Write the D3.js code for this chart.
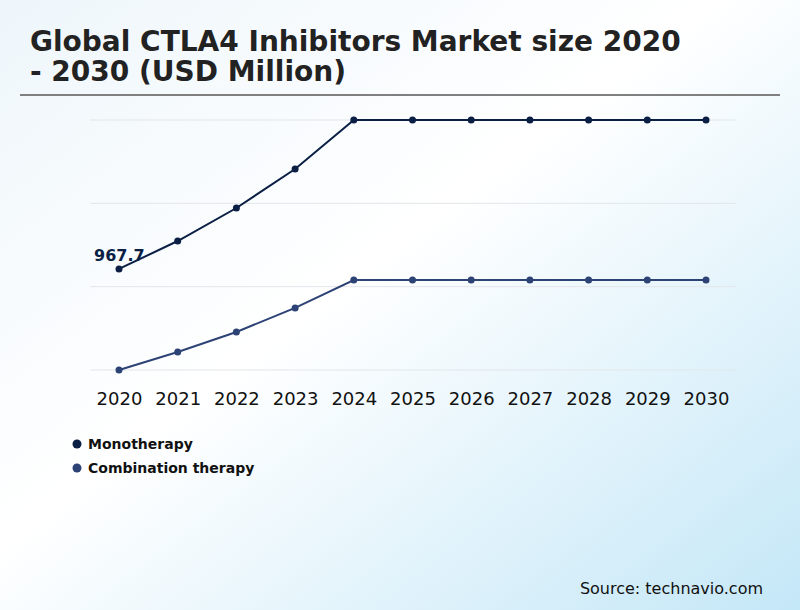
<!DOCTYPE html>
<html>
<head>
<meta charset="utf-8">
<script src="https://cdn.jsdelivr.net/npm/d3@7"></script>
<style>
  body { margin: 0; padding: 0; }
  svg { display: block; font-family: "DejaVu Sans", sans-serif; }
</style>
</head>
<body>
<div id="chart"></div>
<script>
var years = ["2020", "2021", "2022", "2023", "2024", "2025", "2026", "2027", "2028", "2029", "2030"];
var monotherapy = [967.7, 1111, 1280, 1480, 1731, 1731, 1731, 1731, 1731, 1731, 1731];
var combination = [450, 542, 645, 768, 911, 911, 911, 911, 911, 911, 911];
var seriesNames = ["Monotherapy", "Combination therapy"];
var seriesColors = ["#0b1f45", "#2d4375"];

var width = 800, height = 610;

var svg = d3.select("#chart").append("svg")
    .attr("width", width)
    .attr("height", height);

var defs = svg.append("defs");
var grad = defs.append("linearGradient")
    .attr("id", "bg")
    .attr("x1", 0).attr("y1", 0).attr("x2", 1).attr("y2", 1);
grad.append("stop").attr("offset", "0%").attr("stop-color", "#eef6fb");
grad.append("stop").attr("offset", "45%").attr("stop-color", "#ffffff");
grad.append("stop").attr("offset", "100%").attr("stop-color", "#c4e7f7");

svg.append("rect")
    .attr("width", width).attr("height", height)
    .attr("fill", "url(#bg)");

// title
var title = svg.append("text")
    .attr("x", 30)
    .attr("font-size", 28)
    .attr("font-weight", "bold")
    .attr("fill", "#222");
title.append("tspan").attr("x", 30).attr("y", 51).text("Global CTLA4 Inhibitors Market size 2020");
title.append("tspan").attr("x", 30).attr("y", 81).text("- 2030 (USD Million)");

svg.append("line")
    .attr("x1", 20).attr("x2", 780)
    .attr("y1", 95).attr("y2", 95)
    .attr("stroke", "#808080")
    .attr("stroke-width", 2);

var x = d3.scalePoint()
    .domain(years)
    .range([119, 706]);

var allVals = monotherapy.concat(combination);
var y = d3.scaleLinear()
    .domain([d3.min(allVals), d3.max(allVals)])
    .range([370, 120]);

// gridlines: 4 evenly spaced
var gridVals = d3.range(4).map(function (i) {
    return y.domain()[0] + i * (y.domain()[1] - y.domain()[0]) / 3;
});
svg.append("g").selectAll("line")
    .data(gridVals)
    .enter().append("line")
    .attr("x1", 90).attr("x2", 736)
    .attr("y1", function (d) { return y(d); })
    .attr("y2", function (d) { return y(d); })
    .attr("stroke", "#e3e6ea")
    .attr("stroke-width", 1);

// x axis labels
var xAxis = d3.axisBottom(x).tickSize(0).tickPadding(0);
var gx = svg.append("g")
    .attr("transform", "translate(0,392)")
    .call(xAxis);
gx.select(".domain").remove();
gx.selectAll("text")
    .attr("font-family", "DejaVu Sans, sans-serif")
    .attr("font-size", 18)
    .attr("fill", "#111");

var line = d3.line()
    .x(function (d, i) { return x(years[i]); })
    .y(function (d) { return y(d); });

[monotherapy, combination].forEach(function (vals, s) {
    svg.append("path")
        .datum(vals)
        .attr("d", line)
        .attr("fill", "none")
        .attr("stroke", seriesColors[s])
        .attr("stroke-width", 2);
    svg.append("g").selectAll("circle")
        .data(vals)
        .enter().append("circle")
        .attr("cx", function (d, i) { return x(years[i]); })
        .attr("cy", function (d) { return y(d); })
        .attr("r", 3.5)
        .attr("fill", seriesColors[s]);
});

// first value label
svg.append("text")
    .attr("x", x(years[0]) - 25)
    .attr("y", y(monotherapy[0]) - 8)
    .attr("font-size", 16)
    .attr("font-weight", "bold")
    .attr("fill", seriesColors[0])
    .text(monotherapy[0]);

// legend
var legend = svg.append("g").selectAll("g")
    .data(seriesNames)
    .enter().append("g")
    .attr("transform", function (d, i) { return "translate(77," + (444 + i * 24) + ")"; });
legend.append("circle")
    .attr("r", 4.5)
    .attr("fill", function (d, i) { return seriesColors[i]; });
legend.append("text")
    .attr("x", 11)
    .attr("y", 5)
    .attr("font-size", 14)
    .attr("font-weight", "bold")
    .attr("fill", "#111")
    .text(function (d) { return d; });

svg.append("text")
    .attr("x", 763)
    .attr("y", 594)
    .attr("text-anchor", "end")
    .attr("font-size", 16)
    .attr("fill", "#111")
    .text("Source: technavio.com");
</script>
</body>
</html>
